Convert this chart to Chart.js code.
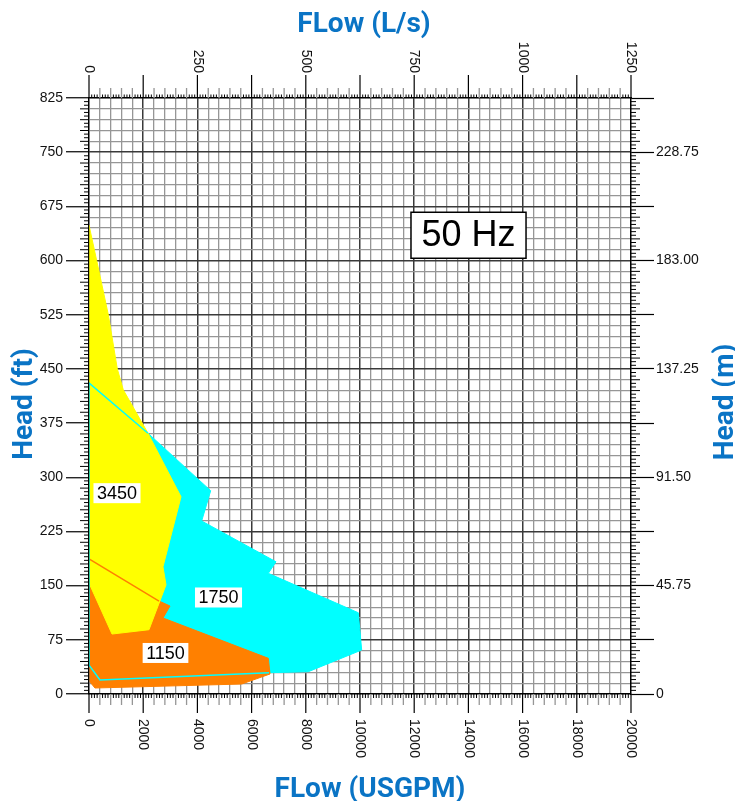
<!DOCTYPE html>
<html><head><meta charset="utf-8">
<script src="https://cdn.jsdelivr.net/npm/chart.js@4.4.1/dist/chart.umd.min.js"></script>
<style>html,body{margin:0;padding:0;background:#fff}#wrap{width:735px;height:801px;position:relative}</style>
</head><body><div id="wrap"><canvas id="c"></canvas></div>
<script>
// ---- data (flow in USGPM, head in ft) ----
const speeds = ['3450', '1750', '1150'];
const flow3450 = [0, 284, 713, 1045, 1266, 2177, 3395, 2730, 2841, 2214, 849, 0, 0];
const head3450 = [649, 600, 525, 450, 421, 361, 273, 176, 151, 89, 83, 153.6, 649];
const flow1750 = [0, 2177, 4490, 4158, 6900, 6617, 9937, 10062, 8093, 6642, 406, 0, 0];
const head1750 = [430.5, 361, 281.4, 239.5, 183, 167, 112.5, 60.9, 30.9, 29.5, 19.4, 40, 430.5];
const flow1150 = [0, 2583, 2989, 2731, 6617, 6679, 5635, 220, 37, 0];
const head1150 = [187, 128.7, 121.8, 105.2, 49.4, 27.7, 13.8, 8.3, 16.6, 187];
const edgeFlow1750 = [2177, 0, 0, 406, 6642];
const edgeHead1750 = [361, 430.5, 40, 19.4, 29.5];
const edgeFlow1150 = [0, 2583];
const edgeHead1150 = [187, 128.7];
const speedLabelFlow = [1033, 4779, 2823];
const speedLabelHead = [278, 133.6, 56.8];
const freqText = '50 Hz';
const freqFlow = 14004, freqHead = 635;

const bottomTicks = [0, 2000, 4000, 6000, 8000, 10000, 12000, 14000, 16000, 18000, 20000];
const topTicks = [0, 250, 500, 750, 1000, 1250];
const leftLabelFt = [0, 75, 150, 225, 300, 375, 450, 525, 600, 675, 750, 825];
const rightTickFt = [0, 75, 150, 225, 300, 375, 450, 525, 600, 675, 750, 825];
const rightLabelFt = [0, 150, 300, 450, 600, 750];
const rightLabelText = ['0', '45.75', '91.50', '137.25', '183.00', '228.75'];
const titles = {top: 'FLow (L/s)', bottom: 'FLow (USGPM)', left: 'Head (ft)', right: 'Head (m)'};

// ---- styles ----
const X_MAX = 20000, Y_MAX = 825, X2_MAX = 1250;
const X_GRID = 400, X_MAJOR = 2000, X_SMALL = 100;
const Y_GRID = 15, Y_MAJOR = 75, Y_SMALL = 5;
const MAJOR = '#3a3a3a', MINOR = '#969696';
const YELLOW = '#ffff00', CYAN = '#00ffff', ORANGE = '#ff8000';
const BLUE = '#0a74c5';
const TICK_FONT = '14px "Liberation Sans", Arial, sans-serif';
const TITLE_FONT = 'bold 28px Roboto, "DejaVu Sans", sans-serif';

const pts = (xs, ys) => xs.map((x, i) => ({x, y: ys[i]}));
const isMul = (v, m) => Math.abs(v / m - Math.round(v / m)) < 1e-6;

const decor = {
  id: 'decor',
  afterDraw(chart) {
    const {ctx, chartArea: a} = chart;
    const sx = chart.scales.x, sx2 = chart.scales.x2, sy = chart.scales.y;
    ctx.save();
    const seg = (x1, y1, x2, y2, col, w) => {
      ctx.strokeStyle = col; ctx.lineWidth = w;
      ctx.beginPath(); ctx.moveTo(x1, y1); ctx.lineTo(x2, y2); ctx.stroke();
    };
    // vertical extensions and small ticks
    for (let v = 0; v <= X_MAX + 1e-6; v += X_SMALL) {
      const px = sx.getPixelForValue(v);
      if (isMul(v, X_MAJOR)) {
        seg(px, a.top - 23, px, a.top, '#000', 1.2);
        seg(px, a.bottom, px, a.bottom + 19, '#000', 1.2);
      } else if (isMul(v, X_GRID)) {
        seg(px, a.top - 10, px, a.top, MINOR, 1.3);
        seg(px, a.bottom, px, a.bottom + 11, MINOR, 1.3);
      } else {
        seg(px, a.top - 3.5, px, a.top, '#000', 1);
        seg(px, a.bottom, px, a.bottom + 4, '#000', 1);
      }
    }
    // horizontal small ticks
    for (let v = 0; v <= Y_MAX + 1e-6; v += Y_SMALL) {
      if (isMul(v, Y_MAJOR)) continue;
      const py = sy.getPixelForValue(v);
      const len = isMul(v, Y_GRID) ? 9 : 5;
      seg(a.left - len, py, a.left, py, '#000', 1);
      seg(a.right, py, a.right + len, py, '#000', 1);
    }
    // rotated tick labels
    ctx.font = TICK_FONT; ctx.fillStyle = '#111'; ctx.textBaseline = 'middle';
    bottomTicks.forEach(v => {
      const px = sx.getPixelForValue(v);
      ctx.save(); ctx.translate(px, a.bottom + 25); ctx.rotate(Math.PI / 2);
      ctx.textAlign = 'left'; ctx.fillText(String(v), 0, 0); ctx.restore();
    });
    topTicks.forEach(v => {
      const px = sx2.getPixelForValue(v);
      ctx.save(); ctx.translate(px, a.top - 25); ctx.rotate(Math.PI / 2);
      ctx.textAlign = 'right'; ctx.fillText(String(v), 0, 0); ctx.restore();
    });
    // titles
    ctx.font = TITLE_FONT; ctx.fillStyle = BLUE; ctx.textBaseline = 'alphabetic'; ctx.textAlign = 'center';
    ctx.fillText(titles.top, 364, 31.5);
    ctx.fillText(titles.bottom, 370, 796.5);
    ctx.save(); ctx.translate(31.5, 404); ctx.rotate(-Math.PI / 2); ctx.fillText(titles.left, 0, 0); ctx.restore();
    ctx.save(); ctx.translate(733, 402); ctx.rotate(-Math.PI / 2); ctx.fillText(titles.right, 0, 0); ctx.restore();
    // speed labels
    ctx.font = '18px "Liberation Sans", Arial, sans-serif';
    ctx.textAlign = 'center'; ctx.textBaseline = 'middle';
    speeds.forEach((s, i) => {
      const cx = sx.getPixelForValue(speedLabelFlow[i]), cy = sy.getPixelForValue(speedLabelHead[i]);
      const w = ctx.measureText(s).width;
      ctx.fillStyle = '#fff'; ctx.fillRect(cx - w / 2 - 3.5, cy - 10, w + 7, 20);
      ctx.fillStyle = '#000'; ctx.fillText(s, cx, cy + 1);
    });
    // frequency box
    ctx.font = '36px "Liberation Sans", Arial, sans-serif';
    const fx = sx.getPixelForValue(freqFlow), fy = sy.getPixelForValue(freqHead);
    const fw = ctx.measureText(freqText).width;
    ctx.fillStyle = '#fff'; ctx.fillRect(fx - fw / 2 - 10.5, fy - 23, fw + 21, 46);
    ctx.strokeStyle = '#000'; ctx.lineWidth = 1.5; ctx.strokeRect(fx - fw / 2 - 10.5, fy - 23, fw + 21, 46);
    ctx.fillStyle = '#000'; ctx.fillText(freqText, fx, fy + 1);
    ctx.restore();
  }
};

const gridColor = c => (c.tick && isMul(c.tick.value, c.scale.id === 'x' ? X_MAJOR : Y_MAJOR)) ? MAJOR : MINOR;
const gridWidth = c => (c.tick && isMul(c.tick.value, c.scale.id === 'x' ? X_MAJOR : Y_MAJOR)) ? 1.5 : 1.3;

new Chart(document.getElementById('c'), {
  type: 'scatter',
  data: {
    datasets: [
      {label: 'edge1750', data: pts(edgeFlow1750, edgeHead1750), showLine: true, fill: false, borderColor: CYAN, borderWidth: 1.5, pointRadius: 0, order: 0},
      {label: 'edge1150', data: pts(edgeFlow1150, edgeHead1150), showLine: true, fill: false, borderColor: ORANGE, borderWidth: 1.5, pointRadius: 0, order: 1},
      {label: speeds[0], data: pts(flow3450, head3450), showLine: true, fill: 'shape', backgroundColor: YELLOW, borderColor: YELLOW, borderWidth: 1, pointRadius: 0, order: 2},
      {label: speeds[2], data: pts(flow1150, head1150), showLine: true, fill: 'shape', backgroundColor: ORANGE, borderColor: ORANGE, borderWidth: 1, pointRadius: 0, order: 3},
      {label: speeds[1], data: pts(flow1750, head1750), showLine: true, fill: 'shape', backgroundColor: CYAN, borderColor: CYAN, borderWidth: 1, pointRadius: 0, order: 4}
    ]
  },
  options: {
    responsive: true, maintainAspectRatio: false, animation: false,
    layout: {padding: 0},
    plugins: {legend: {display: false}, tooltip: {enabled: false}},
    elements: {line: {tension: 0}},
    scales: {
      x: {
        type: 'linear', position: 'bottom', min: 0, max: X_MAX,
        ticks: {stepSize: X_GRID, display: false, autoSkip: false},
        grid: {drawTicks: false, color: gridColor, lineWidth: gridWidth},
        border: {display: true, color: '#000', width: 1.2, z: 1},
        afterFit: s => { s.height = 107; }
      },
      x2: {
        type: 'linear', position: 'top', min: 0, max: X2_MAX,
        ticks: {display: false},
        grid: {drawOnChartArea: false, drawTicks: false},
        border: {display: true, color: '#000', width: 1.2, z: 1},
        afterFit: s => { s.height = 98; }
      },
      y: {
        type: 'linear', position: 'left', min: 0, max: Y_MAX,
        ticks: {stepSize: Y_GRID, autoSkip: false, padding: 3, font: {family: '"Liberation Sans", Arial, sans-serif', size: 14}, color: '#111',
          callback: v => leftLabelFt.includes(v) ? String(v) : ''},
        grid: {color: gridColor, lineWidth: gridWidth, drawTicks: true, tickLength: 23,
          tickColor: c => (c.tick && isMul(c.tick.value, Y_MAJOR)) ? '#000' : 'rgba(0,0,0,0)', tickWidth: 1.2},
        border: {display: true, color: '#000', width: 1.2, z: 1},
        afterFit: s => { s.width = 89; }
      },
      y2: {
        type: 'linear', position: 'right', min: 0, max: Y_MAX,
        afterBuildTicks: s => { s.ticks = rightTickFt.map(v => ({value: v})); },
        ticks: {autoSkip: false, padding: 2, font: {family: '"Liberation Sans", Arial, sans-serif', size: 14}, color: '#111',
          callback: v => { const i = rightLabelFt.indexOf(v); return i >= 0 ? rightLabelText[i] : ''; }},
        grid: {drawOnChartArea: false, drawTicks: true, tickLength: 23, tickColor: '#000', tickWidth: 1.2},
        border: {display: true, color: '#000', width: 1.2, z: 1},
        afterFit: s => { s.width = 104; }
      }
    }
  },
  plugins: [decor]
});
</script></body></html>
